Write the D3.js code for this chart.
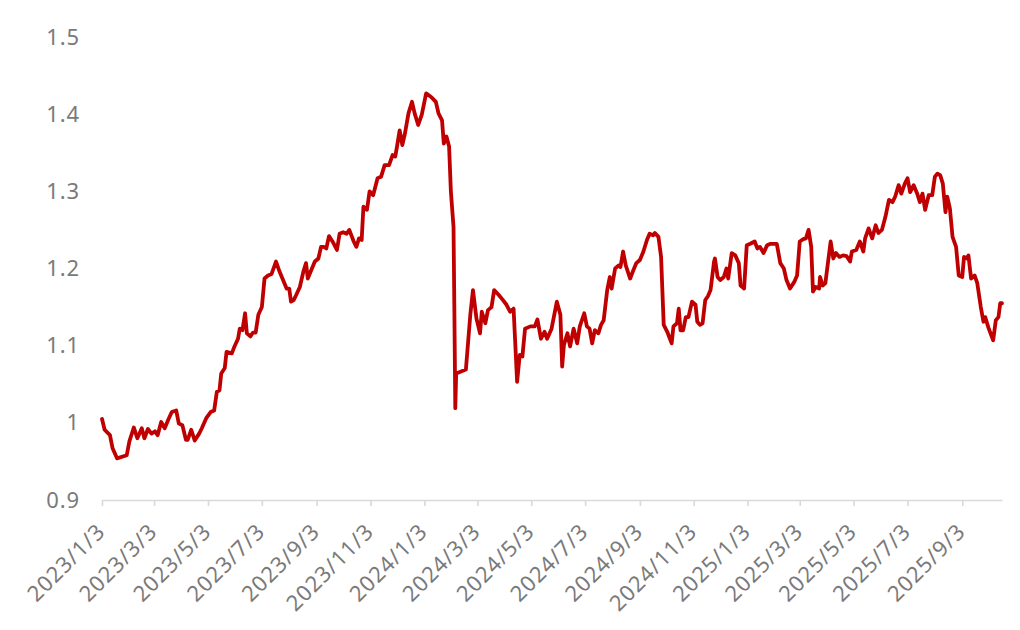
<!DOCTYPE html>
<html>
<head>
<meta charset="utf-8">
<script src="https://cdn.jsdelivr.net/npm/d3@7/dist/d3.min.js"></script>
<style>
  html, body { margin: 0; padding: 0; background: #fff; }
  svg text { font-family: 'Noto Sans', 'Open Sans', sans-serif; fill: #7a7a7a; }
</style>
</head>
<body>
<script>
// dates and values
const dates = [
  '2023-01-03','2023-01-06','2023-01-12','2023-01-15','2023-01-20','2023-01-31','2023-02-03','2023-02-08','2023-02-12','2023-02-17',
  '2023-02-20','2023-02-24','2023-02-28','2023-03-04','2023-03-07','2023-03-11','2023-03-15','2023-03-19','2023-03-23','2023-03-28',
  '2023-03-31','2023-04-04','2023-04-08','2023-04-10','2023-04-14','2023-04-18','2023-04-23','2023-04-26','2023-05-01','2023-05-06',
  '2023-05-10','2023-05-13','2023-05-16','2023-05-18','2023-05-22','2023-05-24','2023-05-30','2023-06-02','2023-06-06','2023-06-08',
  '2023-06-11','2023-06-14','2023-06-16','2023-06-20','2023-06-23','2023-06-26','2023-06-29','2023-07-03','2023-07-06','2023-07-10',
  '2023-07-14','2023-07-19','2023-07-23','2023-07-27','2023-07-31','2023-08-03','2023-08-05','2023-08-08','2023-08-11','2023-08-15',
  '2023-08-19','2023-08-22','2023-08-24','2023-08-28','2023-09-01','2023-09-05','2023-09-08','2023-09-11','2023-09-14','2023-09-17',
  '2023-09-21','2023-09-26','2023-09-29','2023-10-03','2023-10-07','2023-10-10','2023-10-13','2023-10-15','2023-10-18','2023-10-21',
  '2023-10-24','2023-10-26','2023-10-30','2023-11-02','2023-11-06','2023-11-11','2023-11-15','2023-11-19','2023-11-24','2023-11-28',
  '2023-12-01','2023-12-03','2023-12-06','2023-12-09','2023-12-12','2023-12-16','2023-12-20','2023-12-23','2023-12-27','2023-12-31',
  '2024-01-05','2024-01-11','2024-01-16','2024-01-19','2024-01-23','2024-01-25','2024-01-28','2024-01-31','2024-02-02','2024-02-05',
  '2024-02-06','2024-02-07','2024-02-08','2024-02-19','2024-02-24','2024-02-27','2024-03-02','2024-03-06','2024-03-08','2024-03-12',
  '2024-03-15','2024-03-19','2024-03-22','2024-03-27','2024-04-01','2024-04-05','2024-04-09','2024-04-13','2024-04-17','2024-04-20',
  '2024-04-23','2024-04-26','2024-05-02','2024-05-07','2024-05-10','2024-05-14','2024-05-18','2024-05-21','2024-05-26','2024-06-01',
  '2024-06-05','2024-06-07','2024-06-09','2024-06-13','2024-06-16','2024-06-20','2024-06-24','2024-06-27','2024-07-02','2024-07-05',
  '2024-07-08','2024-07-11','2024-07-14','2024-07-18','2024-07-21','2024-07-24','2024-07-28','2024-07-31','2024-08-02','2024-08-06',
  '2024-08-10','2024-08-12','2024-08-15','2024-08-18','2024-08-23','2024-08-26','2024-08-30','2024-09-03','2024-09-07','2024-09-11',
  '2024-09-14','2024-09-18','2024-09-20','2024-09-24','2024-09-27','2024-09-30','2024-10-04','2024-10-07','2024-10-09','2024-10-11',
  '2024-10-15','2024-10-17','2024-10-19','2024-10-22','2024-10-25','2024-10-28','2024-11-01','2024-11-05','2024-11-07','2024-11-10',
  '2024-11-13','2024-11-16','2024-11-19','2024-11-22','2024-11-26','2024-11-27','2024-11-30','2024-12-03','2024-12-07','2024-12-10',
  '2024-12-12','2024-12-16','2024-12-20','2024-12-24','2024-12-26','2024-12-30','2025-01-02','2025-01-06','2025-01-11','2025-01-14',
  '2025-01-17','2025-01-21','2025-01-25','2025-01-29','2025-02-05','2025-02-09','2025-02-13','2025-02-16','2025-02-20','2025-02-25',
  '2025-02-28','2025-03-03','2025-03-07','2025-03-10','2025-03-13','2025-03-16','2025-03-18','2025-03-21','2025-03-25','2025-03-26',
  '2025-03-29','2025-04-01','2025-04-07','2025-04-10','2025-04-13','2025-04-17','2025-04-21','2025-04-25','2025-04-29','2025-05-01',
  '2025-05-06','2025-05-10','2025-05-14','2025-05-16','2025-05-20','2025-05-24','2025-05-28','2025-05-31','2025-06-04','2025-06-08',
  '2025-06-12','2025-06-16','2025-06-19','2025-06-23','2025-06-26','2025-06-30','2025-07-03','2025-07-06','2025-07-10','2025-07-14',
  '2025-07-17','2025-07-20','2025-07-23','2025-07-27','2025-07-31','2025-08-03','2025-08-06','2025-08-09','2025-08-12','2025-08-15',
  '2025-08-17','2025-08-20','2025-08-23','2025-08-27','2025-08-30','2025-09-03','2025-09-05','2025-09-08','2025-09-10','2025-09-13',
  '2025-09-17','2025-09-20','2025-09-24','2025-09-27','2025-09-29','2025-10-03','2025-10-08','2025-10-11','2025-10-14','2025-10-16',
  '2025-10-18'
];

const values = [
  1.005,0.991,0.984,0.967,0.954,0.958,0.976,0.994,0.980,0.993,
  0.980,0.992,0.986,0.989,0.984,1.001,0.993,1.004,1.014,1.016,
  0.999,0.997,0.978,0.978,0.991,0.977,0.986,0.993,1.006,1.014,
  1.016,1.040,1.042,1.064,1.071,1.092,1.090,1.099,1.109,1.122,
  1.120,1.142,1.116,1.112,1.117,1.117,1.140,1.150,1.187,1.191,
  1.193,1.209,1.196,1.185,1.174,1.174,1.157,1.159,1.166,1.176,
  1.196,1.207,1.187,1.198,1.209,1.213,1.228,1.228,1.226,1.242,
  1.235,1.224,1.245,1.247,1.245,1.250,1.241,1.235,1.228,1.239,
  1.237,1.280,1.276,1.300,1.295,1.317,1.319,1.334,1.334,1.347,
  1.345,1.358,1.379,1.360,1.375,1.401,1.416,1.401,1.386,1.399,
  1.427,1.422,1.416,1.401,1.392,1.362,1.371,1.358,1.300,1.254,
  1.142,1.019,1.064,1.069,1.140,1.172,1.135,1.116,1.144,1.129,
  1.146,1.150,1.172,1.166,1.159,1.153,1.144,1.148,1.053,1.088,
  1.086,1.122,1.125,1.125,1.134,1.109,1.118,1.109,1.122,1.157,
  1.140,1.073,1.101,1.116,1.099,1.122,1.103,1.125,1.142,1.125,
  1.122,1.103,1.120,1.116,1.127,1.133,1.172,1.189,1.174,1.200,
  1.204,1.202,1.222,1.204,1.187,1.196,1.207,1.211,1.222,1.237,
  1.245,1.243,1.246,1.241,1.215,1.127,1.118,1.109,1.103,1.125,
  1.129,1.148,1.120,1.120,1.137,1.137,1.157,1.153,1.131,1.127,
  1.129,1.159,1.164,1.172,1.209,1.213,1.189,1.185,1.189,1.200,
  1.187,1.220,1.217,1.207,1.178,1.174,1.230,1.232,1.235,1.226,
  1.228,1.220,1.230,1.232,1.232,1.207,1.200,1.185,1.174,1.183,
  1.191,1.235,1.238,1.239,1.250,1.228,1.170,1.176,1.174,1.189,
  1.178,1.181,1.235,1.213,1.220,1.215,1.217,1.216,1.209,1.222,
  1.224,1.235,1.222,1.239,1.252,1.239,1.256,1.246,1.250,1.267,
  1.289,1.286,1.293,1.308,1.297,1.310,1.317,1.299,1.308,1.297,
  1.286,1.297,1.276,1.295,1.295,1.319,1.323,1.321,1.310,1.273,
  1.293,1.278,1.241,1.228,1.191,1.189,1.215,1.213,1.217,1.187,
  1.191,1.181,1.150,1.131,1.137,1.122,1.107,1.133,1.137,1.155,
  1.155
];

const tickDates = [
  '2023-01-03','2023-03-03','2023-05-03','2023-07-03','2023-09-03','2023-11-03',
  '2024-01-03','2024-03-03','2024-05-03','2024-07-03','2024-09-03','2024-11-03',
  '2025-01-03','2025-03-03','2025-05-03','2025-07-03','2025-09-03'
];
const yTicks = [0.9, 1, 1.1, 1.2, 1.3, 1.4, 1.5];

const width = 1020;
const height = 630;
const plotLeft = 102;
const plotRight = 1002;
const plotTop = 37;
const plotBottom = 500;

const parse = d3.timeParse('%Y-%m-%d');
const data = dates.map((d, i) => ({ date: parse(d), value: values[i] }));

const svg = d3.select('body')
              .append('svg')
              .attr('width', width)
              .attr('height', height);

const xScale = d3.scaleTime()
                 .domain(d3.extent(data, d => d.date))
                 .range([plotLeft, plotRight]);

const yScale = d3.scaleLinear()
                 .domain([0.9, 1.5])
                 .range([plotBottom, plotTop]);

const xAxis = d3.axisBottom(xScale)
                .tickValues(tickDates.map(parse))
                .tickSizeInner(6)
                .tickSizeOuter(0)
                .tickFormat(d3.timeFormat('%Y/%-m/%-d'));

const yAxis = d3.axisLeft(yScale)
                .tickValues(yTicks)
                .tickSize(0)
                .tickPadding(22)
                .tickFormat(d3.format('~g'));

const gx = svg.append('g')
              .attr('transform', 'translate(0, ' + plotBottom + ')')
              .call(xAxis);

gx.select('.domain').attr('stroke', '#d9d9d9').attr('stroke-width', 1.6);
gx.selectAll('.tick line').attr('stroke', '#d9d9d9').attr('stroke-width', 1.6);
gx.selectAll('.tick text')
  .attr('fill', '#7a7a7a')
  .style('font-size', '22px')
  .style('letter-spacing', '0.9px')
  .attr('text-anchor', 'end')
  .attr('dy', null)
  .attr('y', null)
  .attr('transform', 'translate(4, 33) rotate(-45)');

const gy = svg.append('g')
              .attr('transform', 'translate(' + plotLeft + ', 0)')
              .call(yAxis);

gy.select('.domain').remove();
gy.selectAll('.tick text')
  .attr('fill', '#7a7a7a')
  .style('font-size', '22px')
  .style('letter-spacing', '0.9px');

const line = d3.line()
               .x(d => xScale(d.date))
               .y(d => yScale(d.value));

svg.append('path')
   .datum(data)
   .attr('fill', 'none')
   .attr('stroke', '#c00000')
   .attr('stroke-width', 3.8)
   .attr('stroke-linejoin', 'round')
   .attr('stroke-linecap', 'round')
   .attr('d', line);
</script>
</body>
</html>
